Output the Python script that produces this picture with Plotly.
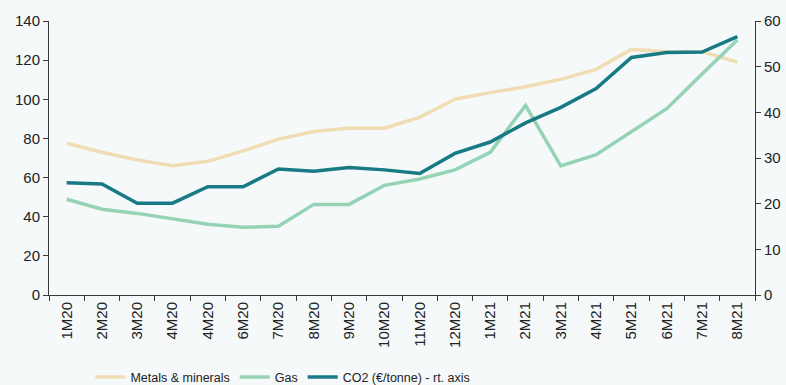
import plotly.graph_objects as go

months = ["1M20", "2M20", "3M20", "4M20", "4M20", "6M20", "7M20", "8M20", "9M20", "10M20",
          "11M20", "12M20", "1M21", "2M21", "3M21", "4M21", "5M21", "6M21", "7M21", "8M21"]
metals = [77.5, 72.9, 69.0, 66.0, 68.3, 73.6, 79.6, 83.5, 85.2, 85.2,
          90.8, 100.0, 103.4, 106.4, 110.2, 115.3, 125.5, 124.3, 124.3, 119.0]
gas = [48.9, 43.8, 41.7, 38.7, 36.1, 34.6, 35.1, 46.3, 46.3, 56.0,
       59.3, 63.9, 72.9, 96.9, 65.9, 71.7, 83.3, 95.2, 112.9, 130.3]
co2 = [24.6, 24.3, 20.1, 20.1, 23.7, 23.7, 27.6, 27.1, 27.9, 27.4,
       26.6, 31.0, 33.5, 37.7, 41.1, 45.2, 52.0, 53.1, 53.2, 56.6]

x = list(range(len(months)))
bg = "#F5F9FA"
font = "Liberation Sans, Arial, sans-serif"

fig = go.Figure()
fig.add_trace(go.Scatter(x=x, y=metals, name="Metals & minerals", mode="lines",
                         line=dict(color="#F0DDB3", width=3.5)))
fig.add_trace(go.Scatter(x=x, y=gas, name="Gas", mode="lines",
                         line=dict(color="#96D3B5", width=3.5)))
fig.add_trace(go.Scatter(x=x, y=co2, name="CO2 (€/tonne) - rt. axis", mode="lines",
                         line=dict(color="#177A84", width=3.5), yaxis="y2"))

axis_common = dict(showgrid=False, zeroline=False, showline=True, linecolor="#3a3a3a",
                   linewidth=1, tickcolor="#3a3a3a", automargin=False,
                   tickfont=dict(family=font, size=15, color="#222222"))

fig.update_layout(
    width=786, height=385,
    margin=dict(l=49, r=31, t=21, b=90, autoexpand=False),
    paper_bgcolor=bg, plot_bgcolor=bg,
    font=dict(family=font, size=15, color="#222222"),
    xaxis=dict(range=[-0.5, len(months) - 0.5], tickmode="array", tickvals=x,
               ticktext=months, tickangle=-90, ticks="",
               minor=dict(tick0=-0.5, dtick=1, ticks="outside", ticklen=5,
                          tickcolor="#3a3a3a", showgrid=False),
               **axis_common),
    yaxis=dict(range=[0, 140], dtick=20, ticks="outside", ticklen=5, **axis_common),
    yaxis2=dict(range=[0, 60], dtick=10, overlaying="y", side="right",
                ticks="outside", ticklen=5, **axis_common),
    showlegend=True,
    legend=dict(orientation="h", xref="container", yref="container",
                x=0.115, xanchor="left", y=0.02, yanchor="middle",
                bgcolor="rgba(0,0,0,0)",
                font=dict(family=font, size=12.5, color="#222222"),
                itemwidth=30, tracegroupgap=0),
)
fig.write_html("out.html")
